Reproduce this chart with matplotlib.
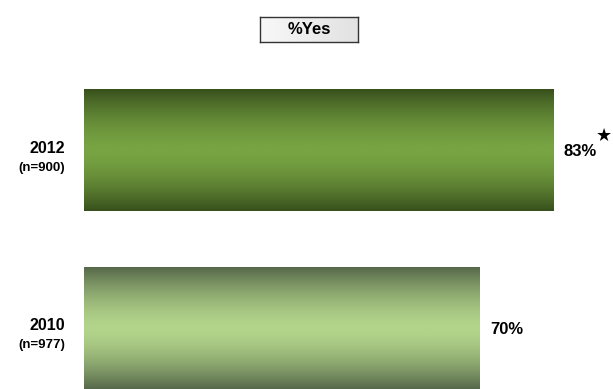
import numpy as np
import matplotlib.pyplot as plt
from matplotlib.colors import LinearSegmentedColormap
from matplotlib.patches import FancyBboxPatch

plt.rcParams['font.family'] = ['Liberation Sans', 'DejaVu Sans']

years = ['2010', '2012']
sizes = ['(n=977)', '(n=900)']
pctYes = [70, 83]
significant = [False, True]

# edge / centre shades of each bar's vertical gradient
edgeColors = ['#56684a', '#38501c']
centerColors = ['#b2d48a', '#78a443']

fig = plt.figure(figsize=(6.13, 3.89), dpi=100)
ax = fig.add_axes([84 / 613, 0, 526 / 613, 329 / 389])
ax.set_xlim(0, 93)
ax.set_ylim(-0.346, 1.507)
ax.axis('off')

barHeight = 0.687
ramp = np.abs(np.linspace(-1, 1, 256)) ** 1.6
for i, val in enumerate(pctYes):
    cmap = LinearSegmentedColormap.from_list('bar%d' % i, [centerColors[i], edgeColors[i]])
    y0 = i - barHeight / 2
    y1 = i + barHeight / 2
    ax.imshow(ramp.reshape(-1, 1), cmap=cmap, aspect='auto', extent=[0, val, y0, y1],
              interpolation='bilinear', vmin=0, vmax=1)
    ax.text(val + 1.8, i - 0.01, '%d%%' % val, ha='left', va='center', fontsize=12, fontweight='bold')
    ax.text(-3.3, i + 0.01, years[i], ha='right', va='center', fontsize=11.5, fontweight='bold')
    ax.text(-3.3, i - 0.1, sizes[i], ha='right', va='center', fontsize=9.5, fontweight='bold')
    if significant[i]:
        # significance marker
        ax.text(val + 8.9, i + 0.08, '\u2605', ha='center', va='center', fontsize=13,
                family=['DejaVu Sans'])

# header box with a light grey gradient
bx, by, bw, bh = 260 / 613, 1 - 42 / 389, 98 / 613, 25 / 389
hax = fig.add_axes([bx, by, bw, bh])
hax.imshow(np.linspace(0, 1, 64).reshape(1, -1), cmap=LinearSegmentedColormap.from_list(
    'hdr', ['#f8f8f8', '#e2e2e2']), aspect='auto', extent=[0, 1, 0, 1])
hax.set_xticks([])
hax.set_yticks([])
for s in hax.spines.values():
    s.set_color('#333333')
    s.set_linewidth(1)
hax.text(0.5, 0.5, '%Yes', ha='center', va='center', fontsize=12, fontweight='bold',
         transform=hax.transAxes)

fig.savefig('out.png', dpi=100)
